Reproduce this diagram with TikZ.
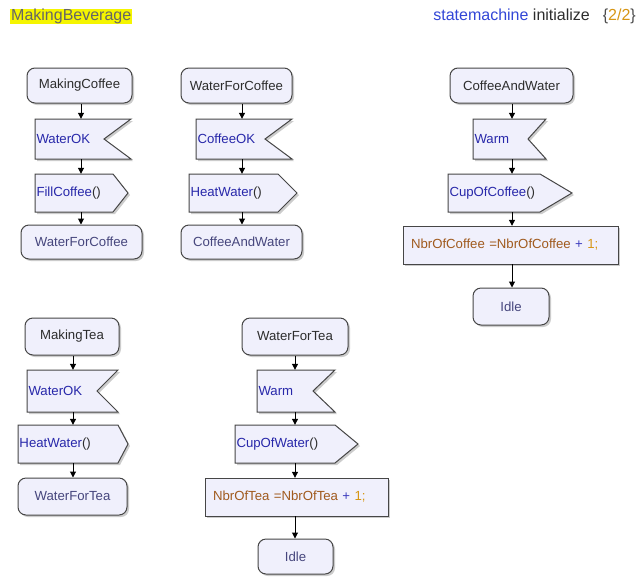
\documentclass[tikz,border=0pt]{standalone}
\usepackage{fontspec}
\setmainfont{Liberation Sans}
\usetikzlibrary{shadows,arrows.meta,calc}

\definecolor{boxfill}{RGB}{240,240,252}
\definecolor{boxline}{RGB}{70,70,70}
\definecolor{srctext}{RGB}{45,45,45}
\definecolor{dsttext}{RGB}{70,70,125}
\definecolor{sigblue}{RGB}{40,40,170}
\definecolor{varbrown}{RGB}{160,90,30}
\definecolor{numorange}{RGB}{215,150,20}
\definecolor{opblue}{RGB}{60,60,190}
\definecolor{kwblue}{RGB}{50,70,215}
\definecolor{hilite}{RGB}{245,245,0}

\tikzset{
  x=1pt, y=-1pt,
  boxfont/.style={font=\fontsize{13.2}{15}\selectfont},
  shade box/.style={fill=boxfill, draw=boxline, line width=1pt,
    drop shadow={shadow xshift=2pt, shadow yshift=-2pt, fill=black!20, opacity=1}},
  statebox/.style={shade box, boxfont, rounded corners=8pt, inner sep=0pt},
  sigtext/.style={boxfont, inner xsep=1.5pt, inner ysep=0pt, align=left, text=sigblue},
  taskbox/.style={shade box, boxfont, inner xsep=8pt, inner ysep=0pt, align=left},
  flow/.style={draw=black, line width=1pt, -{Triangle[length=6pt,width=6pt]}},
}

% state: name, x1, y1, x2, y2, text colour, text
\newcommand\statenode[7]{%
  \node[statebox, minimum width={#4-#2}, minimum height={#5-#3}, text=#6]
    (#1) at ({(#2+#4)/2},{(#3+#5)/2}) {#7};}

% received signal with a notch on the right: name, x1, y1, x2, y2, notch depth, text
\newcommand\inputnode[7]{%
  \filldraw[shade box] (#2,#3) -- (#4,#3) -- ({#4-#6},{(#3+#5)/2}) -- (#4,#5) -- (#2,#5) -- cycle;
  \pgfmathsetmacro\boxw{#4-#2-3}%
  \node[sigtext, text width=\boxw pt, minimum height={#5-#3}]
    (#1) at ({(#2+#4)/2},{(#3+#5)/2}) {#7};}

% sent signal pointing right: name, x1, y1, x2 (tip), y2, corner x, text
\newcommand\outputnode[7]{%
  \filldraw[shade box] (#2,#3) -- (#6,#3) -- (#4,{(#3+#5)/2}) -- (#6,#5) -- (#2,#5) -- cycle;
  \pgfmathsetmacro\boxw{#4-#2-3}%
  \node[sigtext, text width=\boxw pt, minimum height={#5-#3}]
    (#1) at ({(#2+#4)/2},{(#3+#5)/2}) {#7};}

% task: name, x1, y1, x2, y2, text
\newcommand\tasknode[6]{%
  \filldraw[shade box] (#2,#3) rectangle (#4,#5);
  \pgfmathsetmacro\boxw{#4-#2-16}%
  \node[boxfont, inner xsep=8pt, inner ysep=0pt, align=left, text=varbrown,
        text width=\boxw pt, minimum height={#5-#3}]
    (#1) at ({(#2+#4)/2},{(#3+#5)/2}) {#6};}

\newcommand\call[1]{\textcolor{sigblue}{#1}\textcolor{srctext}{()}}

\begin{document}
\begin{tikzpicture}
\useasboundingbox[fill=white] (0,0) rectangle (639,576);

% header
\node[fill=hilite, inner xsep=1pt, inner ysep=0pt, text height=11.5pt, text depth=3.5pt,
      anchor=west, text=black!60, font=\fontsize{16}{18}\selectfont]
  (title) at (10,16) {MakingBeverage};
\node[anchor=base east, inner sep=0pt, text=srctext, font=\fontsize{16}{18}\selectfont]
  (header) at (636,20)
  {\textcolor{kwblue}{statemachine} initialize\hspace{13pt}\textcolor{black!70}{\{}\textcolor{numorange}{2/2}\textcolor{black!70}{\}}};

% column lines for the connectors
\coordinate (colA) at (81,0);
\coordinate (colB) at (242,0);
\coordinate (colC) at (512,0);
\coordinate (colD) at (73,0);
\coordinate (colE) at (295,0);

% MakingCoffee
\statenode{mcS}{27}{68}{132}{103}{srctext}{MakingCoffee}
\inputnode{mcIn}{35}{119}{131}{159}{27}{WaterOK}
\outputnode{mcOut}{35}{174}{128}{212}{113}{\call{FillCoffee}}
\statenode{mcT}{21}{225}{142}{259}{dsttext}{WaterForCoffee}

% WaterForCoffee
\statenode{wcS}{181}{68}{292}{103}{srctext}{WaterForCoffee}
\inputnode{wcIn}{196}{119}{292}{159}{27}{CoffeeOK}
\outputnode{wcOut}{189}{174}{297}{212}{278}{\call{HeatWater}}
\statenode{wcT}{181}{225}{302}{259}{dsttext}{CoffeeAndWater}

% CoffeeAndWater
\statenode{cwS}{450}{68}{573}{103}{srctext}{CoffeeAndWater}
\inputnode{cwIn}{473}{119}{546}{159}{18}{Warm}
\outputnode{cwOut}{448}{174}{572}{212}{540}{\call{CupOfCoffee}}
\tasknode{cwTask}{403}{226}{618}{264}{NbrOfCoffee =NbrOfCoffee \textcolor{opblue}{+} \textcolor{numorange}{1;}}
\statenode{cwT}{473}{288}{549}{325}{dsttext}{Idle}

% MakingTea
\statenode{mtS}{25}{318}{119}{355}{srctext}{MakingTea}
\inputnode{mtIn}{27}{370}{118}{412}{21}{WaterOK}
\outputnode{mtOut}{18}{425}{128}{463}{118}{\call{HeatWater}}
\statenode{mtT}{18}{478}{127}{515}{dsttext}{WaterForTea}

% WaterForTea
\statenode{wtS}{242}{318}{348}{355}{srctext}{WaterForTea}
\inputnode{wtIn}{257}{370}{335}{412}{22}{Warm}
\outputnode{wtOut}{235}{425}{358}{463}{335}{\call{CupOfWater}}
\tasknode{wtTask}{205}{478}{388}{516}{NbrOfTea =NbrOfTea \textcolor{opblue}{+} \textcolor{numorange}{1;}}
\statenode{wtT}{258}{539}{333}{574}{dsttext}{Idle}

% connectors
\draw[flow] (mcS.south -| colA) -- (mcIn.north -| colA);
\draw[flow] (mcIn.south -| colA) -- (mcOut.north -| colA);
\draw[flow] (mcOut.south -| colA) -- (mcT.north -| colA);

\draw[flow] (wcS.south -| colB) -- (wcIn.north -| colB);
\draw[flow] (wcIn.south -| colB) -- (wcOut.north -| colB);
\draw[flow] (wcOut.south -| colB) -- (wcT.north -| colB);

\draw[flow] (cwS.south -| colC) -- (cwIn.north -| colC);
\draw[flow] (cwIn.south -| colC) -- (cwOut.north -| colC);
\draw[flow] (cwOut.south -| colC) -- (cwTask.north -| colC);
\draw[flow] (cwTask.south -| colC) -- (cwT.north -| colC);

\draw[flow] (mtS.south -| colD) -- (mtIn.north -| colD);
\draw[flow] (mtIn.south -| colD) -- (mtOut.north -| colD);
\draw[flow] (mtOut.south -| colD) -- (mtT.north -| colD);

\draw[flow] (wtS.south -| colE) -- (wtIn.north -| colE);
\draw[flow] (wtIn.south -| colE) -- (wtOut.north -| colE);
\draw[flow] (wtOut.south -| colE) -- (wtTask.north -| colE);
\draw[flow] (wtTask.south -| colE) -- (wtT.north -| colE);
\end{tikzpicture}
\end{document}
